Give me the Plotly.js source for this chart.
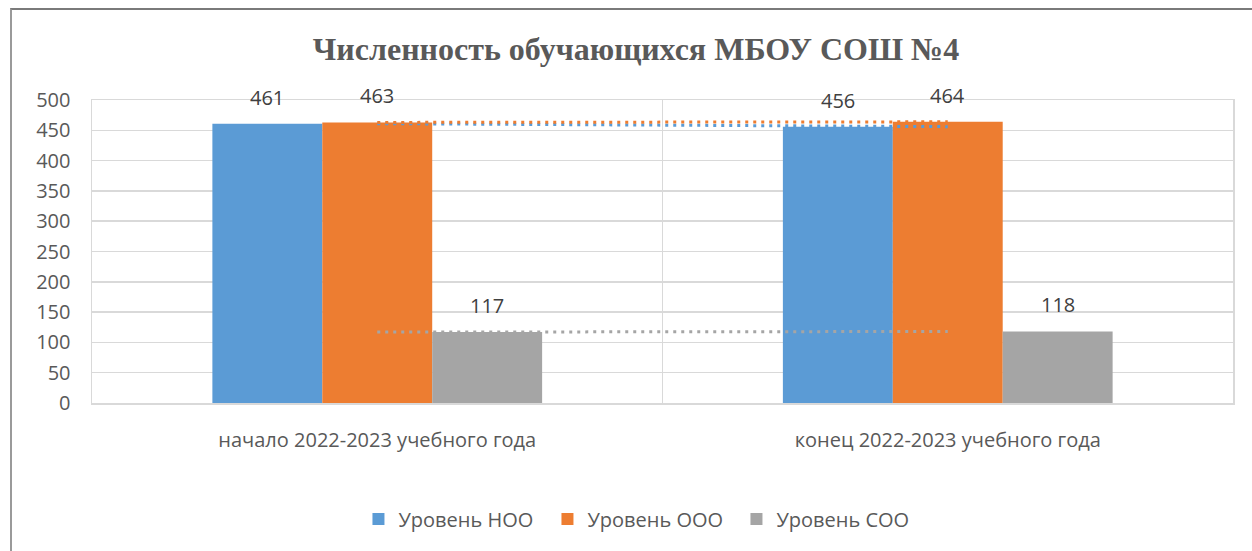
<!DOCTYPE html>
<html>
<head>
<meta charset="utf-8">
<script src="https://cdn.plot.ly/plotly-3.0.1.min.js"></script>
<style>
  html, body { margin: 0; padding: 0; background: #fff; overflow: hidden; }
  #frame { position: absolute; left: 10px; top: 8px; width: 1400px; height: 700px;
           border-top: 2px solid #7a7a7a; border-left: 2px solid #9a9a9a; pointer-events: none; z-index: 5; }
  #chart { position: absolute; left: 0; top: 0; width: 1252px; height: 551px; }
</style>
</head>
<body>
<div id="chart"></div>
<div id="frame"></div>
<script>
const categories = ["начало 2022-2023 учебного года", "конец 2022-2023 учебного года"];
const seriesNames = ["Уровень НОО", "Уровень ООО", "Уровень СОО"];
const valuesNOO = [461, 456];
const valuesOOO = [463, 464];
const valuesSOO = [117, 118];
const yTicks = [0, 50, 100, 150, 200, 250, 300, 350, 400, 450, 500];
const chartTitle = "Численность обучающихся МБОУ СОШ №4";

const colors = ["#5b9bd5", "#ed7d31", "#a5a5a5"];
const allValues = [valuesNOO, valuesOOO, valuesSOO];
const textColor = "#595959";
const bodyFont = "Open Sans, Noto Sans, sans-serif";

const traces = [];
allValues.forEach((vals, i) => {
  traces.push({
    type: "bar", name: seriesNames[i], x: categories, y: vals,
    marker: { color: colors[i], line: { width: 0 } },
    hoverinfo: "skip"
  });
});
// linear trendlines (two points -> straight line between category centres)
allValues.forEach((vals, i) => {
  traces.push({
    type: "scatter", mode: "lines", x: categories, y: vals, showlegend: false,
    line: { color: colors[i], width: 3, dash: "3px,5px" }, hoverinfo: "skip"
  });
});

const W = 1252, H = 551;
const margin = { l: 92, r: 19, t: 100, b: 148 };
const plotW = W - margin.l - margin.r;
const catPx = plotW / categories.length;
const bargap = 0.422;
const barPx = catPx * (1 - bargap) / allValues.length;

const annotations = [];
allValues.forEach((vals, i) => {
  vals.forEach((v, j) => {
    annotations.push({
      x: categories[j], y: v, xref: "x", yref: "y",
      text: String(v), showarrow: false,
      xshift: (i - 1) * barPx, yanchor: "bottom", yshift: 11,
      font: { family: bodyFont, size: 20, color: "#404040" }
    });
  });
});

const layout = {
  width: W, height: H, margin: margin,
  paper_bgcolor: "#ffffff", plot_bgcolor: "#ffffff",
  barmode: "group", bargap: bargap, bargroupgap: 0,
  title: { text: "<b>" + chartTitle + "</b>", x: 0.508, xanchor: "center", y: 0.912, yanchor: "middle",
           font: { family: "Liberation Serif, Times New Roman, serif", size: 32, color: textColor } },
  xaxis: {
    type: "category", tickson: "boundaries", showgrid: true, gridcolor: "#d9d9d9", gridwidth: 1.5,
    showline: true, mirror: true, linecolor: "#d9d9d9", linewidth: 1.5, ticks: "", zeroline: false,
    tickfont: { family: bodyFont, size: 20, color: textColor }, ticklabelstandoff: 18,
    range: [-0.5, 1.5], fixedrange: true
  },
  yaxis: {
    range: [0, 500], tickvals: yTicks, showgrid: true, gridcolor: "#d9d9d9", gridwidth: 1.5,
    zeroline: false, showline: true, mirror: true, linecolor: "#d9d9d9", linewidth: 1.5, ticks: "",
    tickfont: { family: bodyFont, size: 20, color: textColor }, ticklabelstandoff: 16, fixedrange: true
  },
  legend: {
    orientation: "h", x: 0.482, xanchor: "center", y: -0.383, yanchor: "middle",
    font: { family: bodyFont, size: 20, color: textColor }, itemclick: false, traceorder: "normal",
    itemwidth: 30, entrywidth: 144
  },
  annotations: annotations,
  showlegend: true
};

Plotly.newPlot("chart", traces, layout, { displayModeBar: false, staticPlot: true });
</script>
</body>
</html>
